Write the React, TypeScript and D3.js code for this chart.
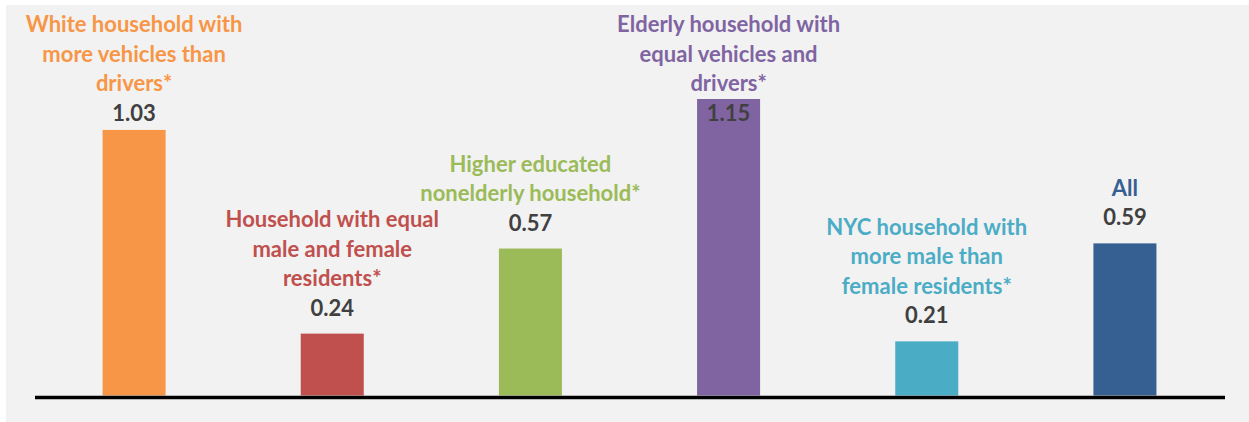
import React from "react";
import * as d3 from "d3";

const categories: string[][] = [
  ["White household with", "more vehicles than", "drivers*"],
  ["Household with equal", "male and female", "residents*"],
  ["Higher educated", "nonelderly household*"],
  ["Elderly household with", "equal vehicles and", "drivers*"],
  ["NYC household with", "more male than", "female residents*"],
  ["All"],
];
const values: number[] = [1.03, 0.24, 0.57, 1.15, 0.21, 0.59];
const valueLabels: string[] = ["1.03", "0.24", "0.57", "1.15", "0.21", "0.59"];
const colors: string[] = ["#F79646", "#C0504D", "#9BBB59", "#8064A2", "#4BACC6", "#366092"];

const W = 1249;
const H = 422;
const FONT = "Lato, 'Open Sans', sans-serif";

export default function App() {
  const ids = categories.map((_, i) => String(i));
  const x = d3.scaleBand<string>().domain(ids).range([35, 1224]).paddingInner(0.682).paddingOuter(0.341);
  const y = d3.scaleLinear().domain([0, 1.15]).range([395.5, 99]);
  const lineH = 29.5;

  return (
    <svg width={W} height={H} style={{ position: "absolute", left: 0, top: 0 }} fontFamily={FONT}>
      <rect x={0} y={0} width={W} height={H} fill="#ffffff" />
      <rect x={6} y={5} width={W - 6} height={H - 5} fill="#f2f2f2" />
      {values.map((v, i) => {
        const bx = x(String(i))!;
        const bw = x.bandwidth();
        const top = y(v);
        const cx = bx + bw / 2;
        const lines = categories[i];
        let valBase = top - 18;
        const firstBase = valBase - lines.length * lineH;
        if (firstBase < 32) valBase = 32 + lines.length * lineH;
        return (
          <g key={i}>
            <rect x={bx} y={top} width={bw} height={y(0) - top} fill={colors[i]} />
            {lines.map((l, j) => (
              <text
                key={j}
                x={cx}
                y={valBase - (lines.length - j) * lineH}
                textAnchor="middle"
                fontWeight="bold"
                fontSize={22}
                fill={colors[i]}
              >
                {l}
              </text>
            ))}
            <text x={cx} y={valBase} textAnchor="middle" fontWeight="bold" fontSize={22} fill="#404040">
              {valueLabels[i]}
            </text>
          </g>
        );
      })}
      <line x1={35} x2={1225} y1={397.5} y2={397.5} stroke="#000000" strokeWidth={3.5} />
    </svg>
  );
}
